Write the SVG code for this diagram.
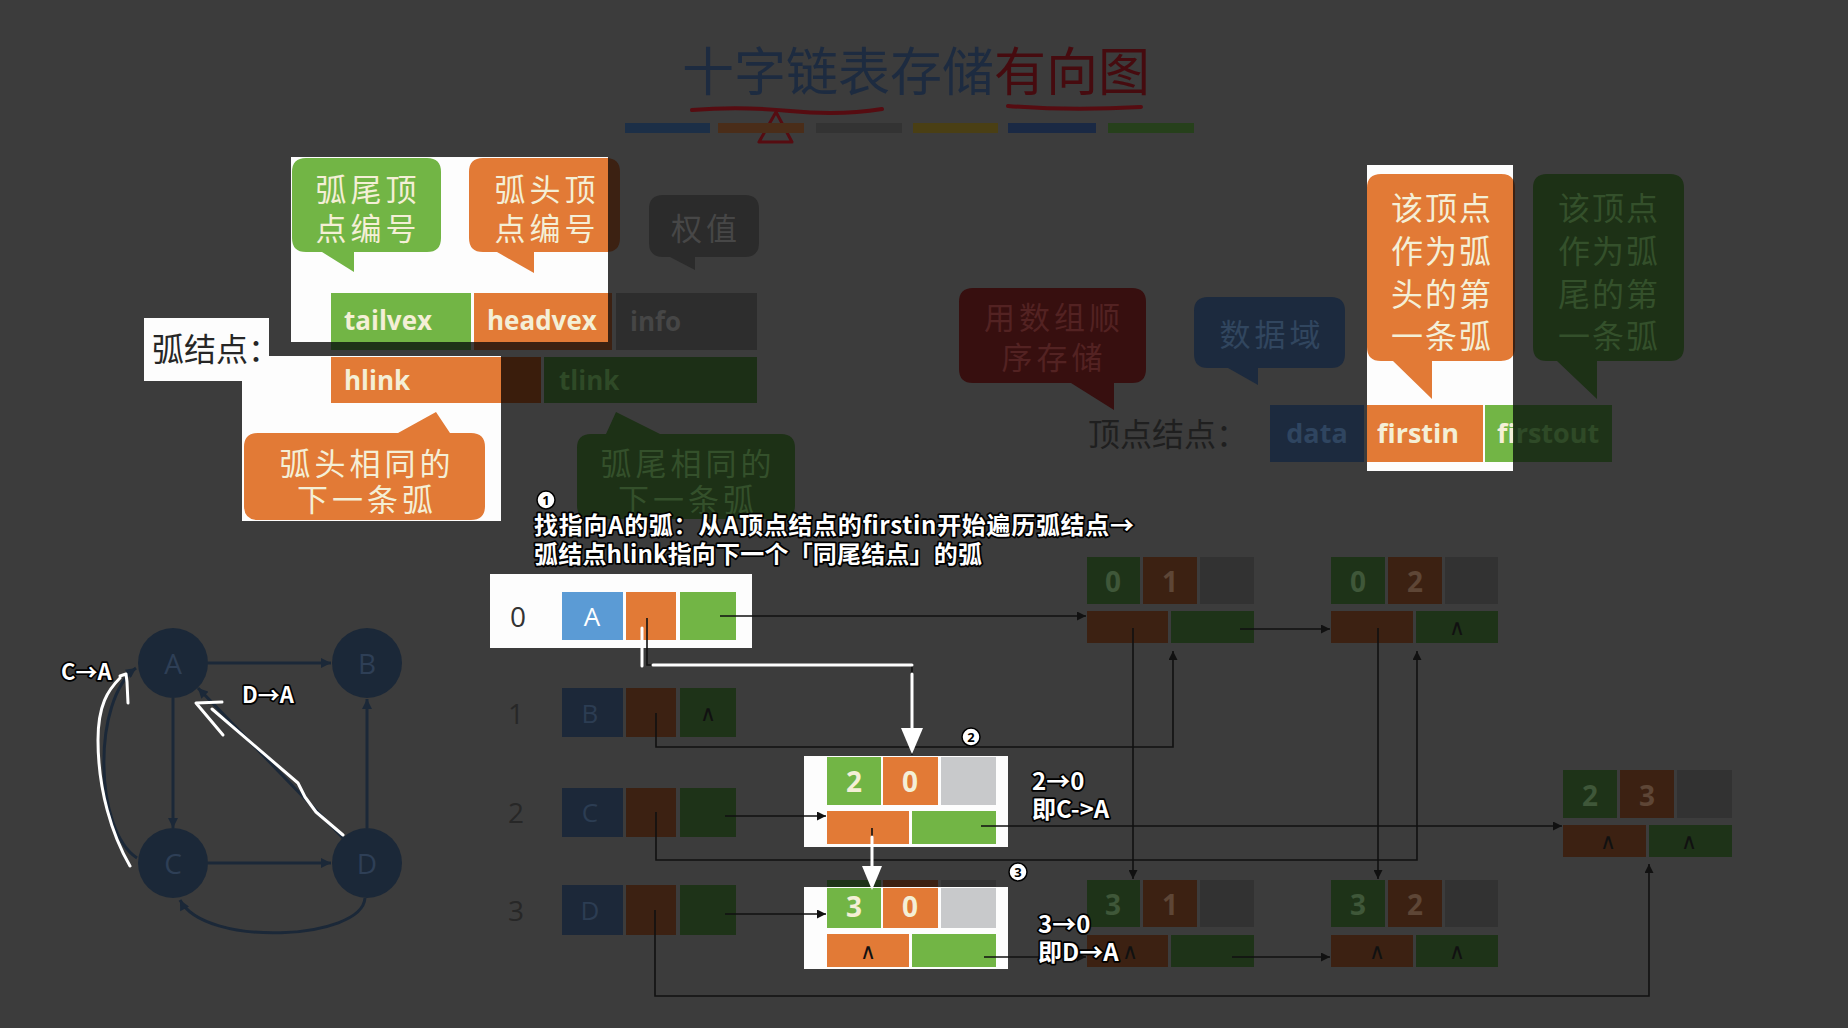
<svg xmlns="http://www.w3.org/2000/svg" width="1848" height="1028" viewBox="0 0 1848 1028">
<style>
.cjk{font-family:"Noto Sans CJK SC","Noto Sans",sans-serif}
.lat{font-family:"Open Sans","Noto Sans",sans-serif}
.b{font-weight:700}
.mid{text-anchor:middle}
.cen{dominant-baseline:central}
.bt{font-size:31px;letter-spacing:4px}
.bt4{font-size:32px;letter-spacing:2px}
.ann{font-family:"Noto Sans CJK SC","Noto Sans",sans-serif;font-weight:700;fill:#fff;stroke:#000;stroke-width:3.5;paint-order:stroke;stroke-linejoin:round}
.ln{stroke:#111;stroke-width:1.6;fill:none}
.gln{stroke:#1b2838;stroke-width:3;fill:none}
.wl{stroke:#fff;stroke-width:3;fill:none;stroke-linecap:round;stroke-linejoin:round}
.nil{font-family:"DejaVu Sans",sans-serif;font-size:22px;fill:#111;text-anchor:middle;dominant-baseline:central}
.cream{fill:#f4efd6}
.dg{fill:#1e3318}.do{fill:#3c2112}.dgr{fill:#323232}.dn{fill:#1c2839}
.tdg{fill:#3f5739}.tdo{fill:#5e4636}.tdn{fill:#2c3d53}
.og{fill:#e27a36}.gg{fill:#72b545}
</style>
<defs>
<marker id="ah" viewBox="0 0 10 10" refX="10" refY="5" markerWidth="10" markerHeight="9" markerUnits="userSpaceOnUse" orient="auto"><path d="M0,0L10,5L0,10z" fill="#111"/></marker>
<marker id="gh" viewBox="0 0 10 10" refX="10" refY="5" markerWidth="11" markerHeight="10" markerUnits="userSpaceOnUse" orient="auto"><path d="M0,0L10,5L0,10z" fill="#1b2838"/></marker>
<clipPath id="spotA"><rect x="291" y="157" width="317" height="185"/></clipPath>
<clipPath id="spotB"><rect x="242" y="356" width="259" height="165"/><rect x="144" y="318" width="125" height="63"/></clipPath>
<clipPath id="spotC"><rect x="1367" y="165" width="146" height="306"/></clipPath>
<linearGradient id="foGrad" gradientUnits="userSpaceOnUse" x1="1490" y1="0" x2="1620" y2="0"><stop offset="0.177" stop-color="#f4efd6"/><stop offset="0.177" stop-color="#2f4a27"/></linearGradient>
</defs>
<rect width="1848" height="1028" fill="#3c3c3c"/>

<g id="title">
<text x="682" y="91" class="cjk" font-size="52"><tspan fill="#1d2b40">十字链表存储</tspan><tspan fill="#460b0f">有向图</tspan></text>
<path d="M692,110 Q740,106 790,111 T882,109" stroke="#560c11" stroke-width="4" fill="none" stroke-linecap="round"/>
<path d="M776,112 L759,142 L792,142 Z" stroke="#560c11" stroke-width="3" fill="none" stroke-linejoin="round"/>
<path d="M1008,106 Q1070,111 1141,107" stroke="#560c11" stroke-width="4" fill="none" stroke-linecap="round"/>
<rect x="625" y="123" width="85" height="10" fill="#1c2f47"/>
<rect x="718" y="123" width="86" height="10" fill="#4a2d19"/>
<rect x="816" y="123" width="86" height="10" fill="#333333"/>
<rect x="913" y="123" width="85" height="10" fill="#4a3f14"/>
<rect x="1008" y="123" width="88" height="10" fill="#1a2944"/>
<rect x="1108" y="123" width="86" height="10" fill="#26401b"/>
</g>

<g id="arcnode-legend">
<rect x="616" y="293" width="141" height="57" fill="#2d2d2d"/>
<text x="630" y="321" class="lat b cen" font-size="26" fill="#464646">info</text>
<rect x="331" y="293" width="140" height="57" class="dg"/>
<rect x="474" y="293" width="138" height="57" class="do"/>
<path d="M469,158 H606 Q620,158 620,172 V238 Q620,252 606,252 H534 V273 L497,252 H483 Q469,252 469,238 V172 Q469,158 483,158 Z" class="do"/>
<rect x="291" y="157" width="317" height="185" fill="#fdfdfd"/>
<g clip-path="url(#spotA)">
<path d="M292,172 Q292,158 306,158 H427 Q441,158 441,172 V238 Q441,252 427,252 H354 V272 L322,252 H306 Q292,252 292,238 Z" class="gg"/>
<path d="M469,158 H606 Q620,158 620,172 V238 Q620,252 606,252 H534 V273 L497,252 H483 Q469,252 469,238 V172 Q469,158 483,158 Z" class="og"/>
<rect x="331" y="293" width="140" height="57" class="gg"/>
<rect x="474" y="293" width="138" height="57" class="og"/>
</g>
<text class="cjk mid cen cream bt"><tspan x="368" y="187">弧尾顶</tspan><tspan x="368" y="226">点编号</tspan></text>
<text class="cjk mid cen cream bt"><tspan x="547" y="187">弧头顶</tspan><tspan x="547" y="226">点编号</tspan></text>
<text x="344" y="320" class="lat b cen cream" font-size="26">tailvex</text>
<text x="487" y="320" class="lat b cen cream" font-size="26">headvex</text>
<path d="M649,209 Q649,195 663,195 H745 Q759,195 759,209 V243 Q759,257 745,257 H695 V270 L670,257 H663 Q649,257 649,243 Z" fill="#2b2b2b"/>
<text x="706" y="226" class="cjk mid cen bt" fill="#474747">权值</text>

<rect x="544" y="357" width="213" height="46" fill="#1c2f16"/>
<text x="559" y="380" class="lat b cen" font-size="26" fill="#2f4a27">tlink</text>
<rect x="331" y="357" width="210" height="46" fill="#3a1d0c"/>
<rect x="242" y="356" width="259" height="165" fill="#fdfdfd"/>
<rect x="144" y="318" width="125" height="63" fill="#fdfdfd"/>
<g clip-path="url(#spotB)">
<rect x="331" y="357" width="210" height="46" class="og"/>
<path d="M258,433 H398 L436,412 L450,433 H471 Q485,433 485,447 V506 Q485,520 471,520 H258 Q244,520 244,506 V447 Q244,433 258,433 Z" class="og"/>
</g>
<text x="152" y="347" class="cjk cen" font-size="32" fill="#262626">弧结点：</text>
<text x="344" y="380" class="lat b cen cream" font-size="26">hlink</text>
<text class="cjk mid cen cream bt"><tspan x="367" y="461">弧头相同的</tspan><tspan x="367" y="497">下一条弧</tspan></text>
<path d="M591,434 H606 L616,412 L660,434 H781 Q795,434 795,448 V505 Q795,519 781,519 H591 Q577,519 577,505 V448 Q577,434 591,434 Z" fill="#1d3116"/>
<text class="cjk mid cen bt" fill="#34502b"><tspan x="688" y="461">弧尾相同的</tspan><tspan x="688" y="497">下一条弧</tspan></text>
</g>

<g id="vexnode-legend">
<path d="M973,288 H1132 Q1146,288 1146,302 V369 Q1146,383 1132,383 H1114 V410 L1071,383 H973 Q959,383 959,369 V302 Q959,288 973,288 Z" fill="#370f0f"/>
<text class="cjk mid cen bt" fill="#532222"><tspan x="1054" y="315">用数组顺</tspan><tspan x="1054" y="355">序存储</tspan></text>
<path d="M1208,297 H1331 Q1345,297 1345,311 V354 Q1345,368 1331,368 H1258 V385 L1228,368 H1208 Q1194,368 1194,354 V311 Q1194,297 1208,297 Z" fill="#1c2a3e"/>
<text x="1272" y="332" class="cjk mid cen bt" fill="#31465f">数据域</text>
<path d="M1547,174 H1670 Q1684,174 1684,188 V347 Q1684,361 1670,361 H1597 V399 L1557,361 H1547 Q1533,361 1533,347 V188 Q1533,174 1547,174 Z" fill="#1d3116"/>
<text class="cjk mid cen bt4" fill="#34502b"><tspan x="1609" y="206">该顶点</tspan><tspan x="1609" y="249">作为弧</tspan><tspan x="1609" y="292">尾的第</tspan><tspan x="1609" y="334">一条弧</tspan></text>
<text x="1088" y="432" class="cjk cen" font-size="32" fill="#1f1f1f">顶点结点：</text>
<rect x="1270" y="405" width="94" height="57" fill="#1c2a3e"/>
<text x="1317" y="432" class="lat b mid cen" font-size="27" fill="#2f4560">data</text>
<rect x="1485" y="405" width="127" height="57" class="dg"/>
<path d="M1381,174 H1501 Q1515,174 1515,188 V347 Q1515,361 1501,361 H1432 V399 L1393,361 H1381 Q1367,361 1367,347 V188 Q1367,174 1381,174 Z" class="do"/>
<rect x="1367" y="165" width="146" height="306" fill="#fdfdfd"/>
<g clip-path="url(#spotC)">
<path d="M1381,174 H1501 Q1515,174 1515,188 V347 Q1515,361 1501,361 H1432 V399 L1393,361 H1381 Q1367,361 1367,347 V188 Q1367,174 1381,174 Z" class="og"/>
<rect x="1367" y="405" width="116" height="57" class="og"/>
<rect x="1485" y="405" width="127" height="57" class="gg"/>
</g>
<text class="cjk mid cen cream bt4"><tspan x="1442" y="206">该顶点</tspan><tspan x="1442" y="249">作为弧</tspan><tspan x="1442" y="292">头的第</tspan><tspan x="1442" y="334">一条弧</tspan></text>
<text x="1377" y="432" class="lat b cen cream" font-size="27">firstin</text>
<text x="1497" y="432" class="lat b cen" font-size="27" fill="url(#foGrad)">firstout</text>
</g>

<g id="graph">
<line x1="208" y1="663" x2="331" y2="663" class="gln" marker-end="url(#gh)"/>
<line x1="173" y1="698" x2="173" y2="828" class="gln" marker-end="url(#gh)"/>
<line x1="208" y1="863" x2="331" y2="863" class="gln" marker-end="url(#gh)"/>
<line x1="367" y1="828" x2="367" y2="699" class="gln" marker-end="url(#gh)"/>
<line x1="343" y1="838" x2="198" y2="688" class="gln" marker-end="url(#gh)"/>
<path d="M365,898 C362,940 205,948 180,900" class="gln" marker-end="url(#gh)"/>
<path d="M137,858 C94,830 92,700 136,668" class="gln" marker-end="url(#gh)"/>
<g id="gA"><circle cx="173" cy="663" r="35" fill="#1b2838"/><text x="173" y="663" class="lat mid cen" font-size="28" fill="#2e3f56">A</text></g>
<g id="gB"><circle cx="367" cy="663" r="35" fill="#1b2838"/><text x="367" y="663" class="lat mid cen" font-size="28" fill="#2e3f56">B</text></g>
<g id="gC"><circle cx="173" cy="863" r="35" fill="#1b2838"/><text x="173" y="863" class="lat mid cen" font-size="28" fill="#2e3f56">C</text></g>
<g id="gD"><circle cx="367" cy="863" r="35" fill="#1b2838"/><text x="367" y="863" class="lat mid cen" font-size="28" fill="#2e3f56">D</text></g>
</g>

<g id="vex0">
<rect x="490" y="574" width="262" height="74" fill="#fdfdfd"/>
<text x="518" y="616" class="lat mid cen" font-size="28" fill="#333">0</text>
<rect x="562" y="592" width="61" height="48" fill="#5b9bd5"/>
<text x="592" y="616" class="lat mid cen" font-size="26" fill="#fff">A</text>
<rect x="626" y="592" width="50" height="48" class="og"/>
<rect x="680" y="592" width="56" height="48" class="gg"/>
</g>
<g id="vex1">
<text x="516" y="713" class="lat mid cen" font-size="28" fill="#272727">1</text>
<rect x="562" y="688" width="61" height="49" class="dn"/>
<text x="590" y="713" class="lat mid cen tdn" font-size="26">B</text>
<rect x="626" y="688" width="50" height="49" class="do"/>
<rect x="680" y="688" width="56" height="49" class="dg"/>
<text x="708" y="713" class="nil">∧</text>
</g>
<g id="vex2">
<text x="516" y="812" class="lat mid cen" font-size="28" fill="#272727">2</text>
<rect x="562" y="788" width="61" height="49" class="dn"/>
<text x="590" y="812" class="lat mid cen tdn" font-size="26">C</text>
<rect x="626" y="788" width="50" height="49" class="do"/>
<rect x="680" y="788" width="56" height="49" class="dg"/>
</g>
<g id="vex3">
<text x="516" y="910" class="lat mid cen" font-size="28" fill="#272727">3</text>
<rect x="562" y="885" width="61" height="50" class="dn"/>
<text x="590" y="910" class="lat mid cen tdn" font-size="26">D</text>
<rect x="626" y="885" width="50" height="50" class="do"/>
<rect x="680" y="885" width="56" height="50" class="dg"/>
</g>

<g id="arc20">
<rect x="804" y="756" width="204" height="91" fill="#fdfdfd"/>
<rect x="827" y="757" width="54" height="48" class="gg"/>
<rect x="883" y="757" width="55" height="48" class="og"/>
<rect x="941" y="757" width="55" height="48" fill="#c8c9cb"/>
<rect x="827" y="811" width="82" height="33" class="og"/>
<rect x="912" y="811" width="84" height="33" class="gg"/>
<text x="854" y="781" class="lat b mid cen cream" font-size="28">2</text>
<text x="910" y="781" class="lat b mid cen cream" font-size="28">0</text>
</g>
<g id="arc30">
<rect x="827" y="880" width="54" height="48" class="dg"/>
<rect x="883" y="880" width="55" height="48" class="do"/>
<rect x="941" y="880" width="55" height="48" class="dgr"/>
<rect x="804" y="887" width="204" height="82" fill="#fdfdfd"/>
<rect x="827" y="888" width="54" height="40" class="gg"/>
<rect x="883" y="888" width="55" height="40" class="og"/>
<rect x="941" y="888" width="55" height="40" fill="#c8c9cb"/>
<rect x="827" y="934" width="82" height="33" class="og"/>
<rect x="912" y="934" width="84" height="33" class="gg"/>
<text x="854" y="906" class="lat b mid cen cream" font-size="28">3</text>
<text x="910" y="906" class="lat b mid cen cream" font-size="28">0</text>
<text x="868" y="951" class="nil">∧</text>
</g>
<g id="arc01">
<rect x="1087" y="557" width="53" height="47" class="dg"/>
<rect x="1143" y="557" width="54" height="47" class="do"/>
<rect x="1200" y="557" width="54" height="47" class="dgr"/>
<rect x="1087" y="611" width="81" height="32" class="do"/>
<rect x="1171" y="611" width="83" height="32" class="dg"/>
<text x="1113" y="581" class="lat b mid cen tdg" font-size="28">0</text>
<text x="1170" y="581" class="lat b mid cen tdo" font-size="28">1</text>
</g>
<g id="arc02">
<rect x="1331" y="557" width="54" height="47" class="dg"/>
<rect x="1388" y="557" width="54" height="47" class="do"/>
<rect x="1445" y="557" width="53" height="47" class="dgr"/>
<rect x="1331" y="611" width="82" height="32" class="do"/>
<rect x="1416" y="611" width="82" height="32" class="dg"/>
<text x="1358" y="581" class="lat b mid cen tdg" font-size="28">0</text>
<text x="1415" y="581" class="lat b mid cen tdo" font-size="28">2</text>
<text x="1457" y="627" class="nil">∧</text>
</g>
<g id="arc31">
<rect x="1087" y="880" width="53" height="47" class="dg"/>
<rect x="1143" y="880" width="54" height="47" class="do"/>
<rect x="1200" y="880" width="54" height="47" class="dgr"/>
<rect x="1087" y="935" width="81" height="32" class="do"/>
<rect x="1171" y="935" width="83" height="32" class="dg"/>
<text x="1113" y="904" class="lat b mid cen tdg" font-size="28">3</text>
<text x="1170" y="904" class="lat b mid cen tdo" font-size="28">1</text>
<text x="1130" y="951" class="nil">∧</text>
</g>
<g id="arc32">
<rect x="1331" y="880" width="54" height="47" class="dg"/>
<rect x="1388" y="880" width="54" height="47" class="do"/>
<rect x="1445" y="880" width="53" height="47" class="dgr"/>
<rect x="1331" y="935" width="82" height="32" class="do"/>
<rect x="1416" y="935" width="82" height="32" class="dg"/>
<text x="1358" y="904" class="lat b mid cen tdg" font-size="28">3</text>
<text x="1415" y="904" class="lat b mid cen tdo" font-size="28">2</text>
<text x="1377" y="951" class="nil">∧</text>
<text x="1457" y="951" class="nil">∧</text>
</g>
<g id="arc23">
<rect x="1563" y="770" width="54" height="48" class="dg"/>
<rect x="1620" y="770" width="54" height="48" class="do"/>
<rect x="1677" y="770" width="55" height="48" class="dgr"/>
<rect x="1563" y="825" width="83" height="32" class="do"/>
<rect x="1649" y="825" width="83" height="32" class="dg"/>
<text x="1590" y="795" class="lat b mid cen tdg" font-size="28">2</text>
<text x="1647" y="795" class="lat b mid cen tdo" font-size="28">3</text>
<text x="1608" y="841" class="nil">∧</text>
<text x="1689" y="841" class="nil">∧</text>
</g>

<g id="connectors">
<path d="M720,616 H1086" class="ln" marker-end="url(#ah)"/>
<path d="M647,618 V665 H912 V755" class="ln"/>
<path d="M656,713 V747 H1173 V651" class="ln" marker-end="url(#ah)"/>
<path d="M725,816 H826" class="ln" marker-end="url(#ah)"/>
<path d="M656,812 V860 H1417 V651" class="ln" marker-end="url(#ah)"/>
<path d="M725,914 H826" class="ln" marker-end="url(#ah)"/>
<path d="M655,910 V996 H1649 V864" class="ln" marker-end="url(#ah)"/>
<path d="M981,826 H1562" class="ln" marker-end="url(#ah)"/>
<path d="M872,828 V886" class="ln"/>
<path d="M984,957 H1086" class="ln" marker-end="url(#ah)"/>
<path d="M1240,629 H1330" class="ln" marker-end="url(#ah)"/>
<path d="M1133,628 V879" class="ln" marker-end="url(#ah)"/>
<path d="M1378,628 V879" class="ln" marker-end="url(#ah)"/>
<path d="M1232,957 H1330" class="ln" marker-end="url(#ah)"/>
</g>

<g id="annotations">
<path d="M642,628 V666" class="wl"/>
<path d="M653,665 H912" class="wl"/>
<path d="M912,674 V730" class="wl"/>
<path d="M901,728 L923,728 L912,754 Z" fill="#fff"/>
<path d="M872,837 V868" class="wl"/>
<path d="M862,866 L882,866 L872,890 Z" fill="#fff"/>
<path d="M130,866 C112,835 98,790 98,740 C98,705 108,690 120,678" class="wl"/>
<path d="M120,676 L126,674 L127,682 L128,703" class="wl"/>
<path d="M343,835 L316,812 L305,797 L298,783 L212,709" class="wl"/>
<path d="M222,702 L196,703 L223,735" class="wl"/>
<text x="61" y="680" class="ann" font-size="22">C→A</text>
<text x="242" y="703" class="ann" font-size="22">D→A</text>
<g id="badge1"><circle cx="546" cy="500" r="9" fill="#fff" stroke="#000" stroke-width="1.5"/><text x="546" y="504.5" class="lat b mid" font-size="13" fill="#000">1</text></g>
<text class="ann" font-size="24"><tspan x="534" y="534" textLength="600" lengthAdjust="spacing">找指向A的弧：从A顶点结点的firstin开始遍历弧结点→</tspan><tspan x="534" y="563" textLength="448" lengthAdjust="spacing">弧结点hlink指向下一个「同尾结点」的弧</tspan></text>
<g id="badge2"><circle cx="971" cy="737" r="9" fill="#fff" stroke="#000" stroke-width="1.5"/><text x="971" y="741.5" class="lat b mid" font-size="13" fill="#000">2</text></g>
<g id="badge3"><circle cx="1018" cy="872" r="9" fill="#fff" stroke="#000" stroke-width="1.5"/><text x="1018" y="876.5" class="lat b mid" font-size="13" fill="#000">3</text></g>
<text class="ann" font-size="24"><tspan x="1032" y="790">2→0</tspan><tspan x="1032" y="818">即C-&gt;A</tspan></text>
<text class="ann" font-size="24"><tspan x="1038" y="933">3→0</tspan><tspan x="1038" y="961">即D→A</tspan></text>
</g>
</svg>
